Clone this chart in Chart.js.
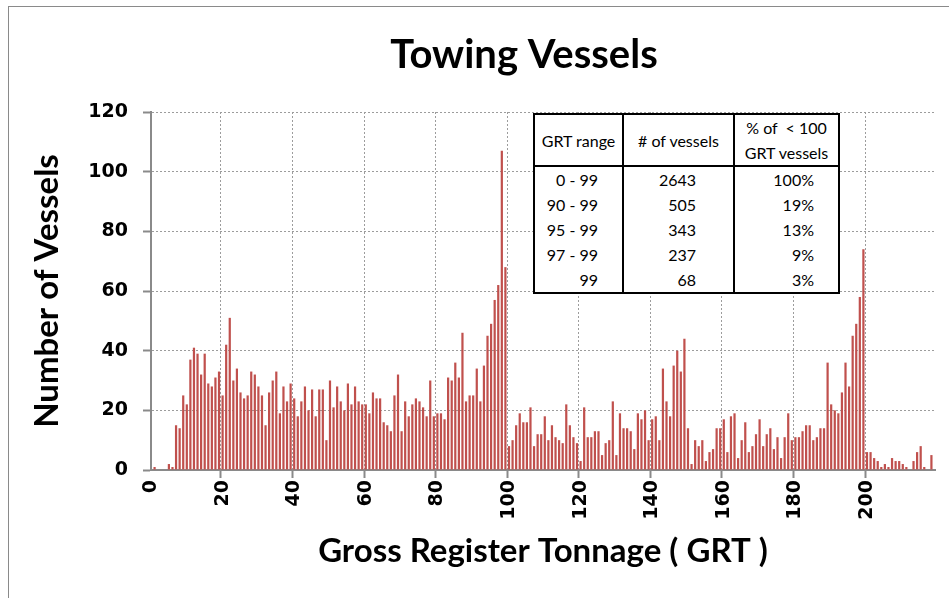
<!DOCTYPE html>
<html>
<head>
<meta charset="utf-8">
<title>Towing Vessels</title>
<script src="https://cdn.jsdelivr.net/npm/chart.js@4.4.1/dist/chart.umd.min.js"></script>
<style>
  body { margin: 0; background: #fff; }
  .wrap { position: relative; width: 949px; height: 598px; overflow: hidden; font-family: Lato, sans-serif; }
  .frame { position: absolute; left: 8px; top: 6px; width: 1000px; height: 1000px; border: 1px solid #8a8a8a; }
  .chart { position: absolute; left: 0; top: 0; }
  .summary { position: absolute; left: 533px; top: 113px; border-collapse: collapse; background: #fff; font-size: 16px; color: #000; }
  .summary th, .summary td { border-left: 2px solid #000; border-right: 2px solid #000; padding: 0; white-space: nowrap; }
  .summary th { border-top: 2px solid #000; border-bottom: 2px solid #000; height: 50px; font-weight: normal; text-align: center; line-height: 25px; }
  .summary td { height: 25px; line-height: 25px; text-align: right; }
  .summary tr:last-child td { border-bottom: 2px solid #000; }
  .summary td:nth-child(1) { padding-right: 24px; }
  .summary td:nth-child(2) { padding-right: 37px; }
  .summary td:nth-child(3) { padding-right: 24px; }
</style>
</head>
<body>
<div class="wrap">
  <div class="frame"></div>
  <canvas class="chart" width="949" height="598"></canvas>
  <table class="summary">
    <colgroup><col style="width:89px"><col style="width:111px"><col style="width:105px"></colgroup>
    <thead><tr><th>GRT range</th><th># of vessels</th><th>% of&nbsp; &lt; 100<br>GRT vessels</th></tr></thead>
    <tbody></tbody>
  </table>
</div>
<script>
// vessels per gross register tonnage, 0 .. 219 GRT
const vesselCounts = [
  0, 1, 0, 0, 0, 2, 1, 15, 14, 25,
  22, 37, 41, 39, 32, 39, 29, 28, 31, 33,
  25, 42, 51, 30, 34, 26, 24, 25, 33, 32,
  28, 25, 15, 26, 30, 33, 19, 28, 23, 29,
  24, 18, 23, 28, 20, 27, 18, 27, 27, 10,
  30, 21, 28, 23, 20, 29, 22, 28, 23, 22,
  22, 19, 26, 24, 24, 16, 15, 13, 25, 32,
  13, 23, 18, 22, 24, 23, 21, 18, 30, 18,
  19, 19, 17, 31, 30, 36, 31, 46, 23, 25,
  25, 34, 23, 35, 45, 49, 57, 62, 107, 68,
  8, 10, 15, 19, 16, 16, 21, 8, 12, 12,
  18, 10, 15, 11, 10, 9, 22, 15, 11, 9,
  3, 21, 11, 11, 13, 13, 5, 9, 10, 23,
  5, 19, 14, 14, 13, 7, 19, 17, 20, 10,
  17, 18, 10, 34, 23, 18, 35, 40, 33, 44,
  14, 2, 10, 8, 10, 3, 6, 7, 14, 14,
  17, 6, 18, 19, 4, 10, 16, 6, 8, 12,
  17, 8, 12, 14, 7, 11, 4, 11, 19, 10,
  11, 11, 13, 15, 15, 10, 11, 14, 14, 36,
  22, 20, 19, 26, 36, 28, 45, 49, 58, 74,
  6, 6, 4, 3, 1, 2, 1, 4, 3, 3,
  2, 1, 0, 3, 6, 8, 1, 0, 5, 0
];
const grtTons = vesselCounts.map((_, i) => String(i));
const xLabelStep = 20;
const yTicks = [0, 20, 40, 60, 80, 100, 120];

// summary table
const tableRanges = ["0 - 99", "90 - 99", "95 - 99", "97 - 99", "99"];
const tableCounts = ["2643", "505", "343", "237", "68"];
const tableShares = ["100%", "19%", "13%", "9%", "3%"];

window.onload = function () {
  const body = document.querySelector(".summary tbody");
  tableRanges.forEach((r, i) => {
    const tr = document.createElement("tr");
    [r, tableCounts[i], tableShares[i]].forEach((t) => {
      const td = document.createElement("td");
      td.textContent = t;
      tr.appendChild(td);
    });
    body.appendChild(tr);
  });

  const ctx = document.querySelector(".chart");
  const axisGrey = "#8a8a8a";
  const gridGrey = "#9c9c9c";
  const titleFont = { family: "Lato", size: 33, weight: "bold" };
  const tickFont = { family: "DejaVu Sans", size: 19, weight: "bold" };

  // chart heading, centred a little left of the plot
  const heading = {
    id: "heading",
    afterDraw(chart) {
      const c = chart.ctx;
      c.save();
      c.font = "bold 40px Lato";
      c.fillStyle = "#000";
      c.textAlign = "center";
      c.textBaseline = "alphabetic";
      c.fillText("Towing Vessels", 524, 68);
      c.restore();
    }
  };

  const data = {
    labels: grtTons,
    datasets: [
      {
        data: vesselCounts,
        backgroundColor: "#C0504D",
        barPercentage: 0.62,
        categoryPercentage: 1
      }
    ]
  };

  const options = {
    responsive: false,
    animation: false,
    layout: { padding: { top: 112, right: 14, bottom: 10, left: 20 } },
    plugins: {
      legend: { display: false },
      tooltip: { enabled: false }
    },
    scales: {
      x: {
        offset: false,
        grid: {
          color: (c) => (c.index % xLabelStep === 0 ? gridGrey : "transparent"),
          tickColor: (c) => (c.index % xLabelStep === 0 ? axisGrey : "transparent"),
          tickLength: 8,
          tickWidth: 2
        },
        border: { color: axisGrey, width: 2, dash: [2, 2] },
        ticks: {
          autoSkip: false,
          minRotation: 90,
          maxRotation: 90,
          padding: 2,
          color: "#000",
          font: tickFont,
          callback: function (value, index) {
            return index % xLabelStep === 0 ? this.getLabelForValue(value) : "";
          }
        },
        title: {
          display: true,
          text: "Gross Register Tonnage ( GRT )",
          color: "#000",
          font: titleFont,
          padding: { top: 0, bottom: 17 }
        },
        afterFit: (scale) => {
          scale.height = 598 - 10 - 470;
          scale.paddingLeft = 0;
          scale.paddingRight = 0;
        }
      },
      y: {
        min: yTicks[0],
        max: yTicks[yTicks.length - 1],
        grid: { color: gridGrey, tickColor: axisGrey, tickLength: 8, tickWidth: 2 },
        border: { color: axisGrey, width: 2, dash: [2, 2] },
        ticks: {
          stepSize: yTicks[1] - yTicks[0],
          padding: 15,
          color: "#000",
          font: tickFont
        },
        title: {
          display: true,
          text: "Number of Vessels",
          color: "#000",
          font: titleFont,
          padding: { top: 8, bottom: 0 }
        },
        afterFit: (scale) => { scale.width = 151 - 20; }
      }
    }
  };

  new Chart(ctx, {
    type: "bar",
    data: data,
    options: options,
    plugins: [heading]
  });
};
</script>
</body>
</html>
